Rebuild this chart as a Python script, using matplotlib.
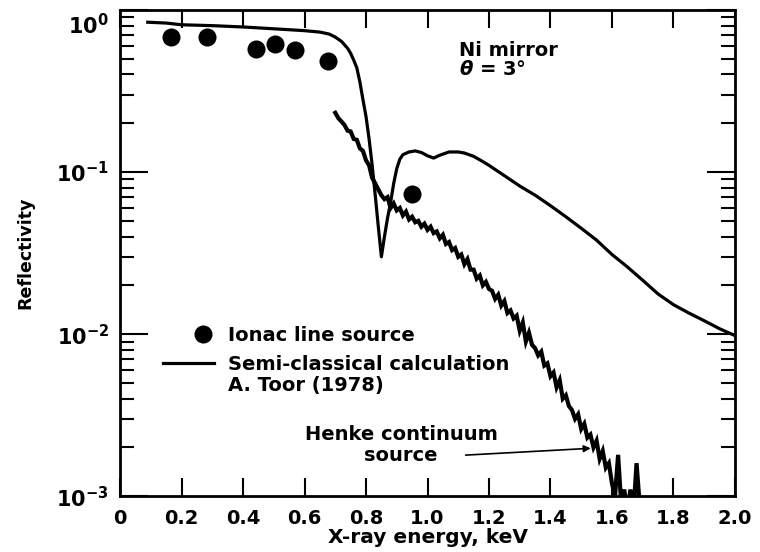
import matplotlib
matplotlib.use("Agg")
import matplotlib.pyplot as plt
import matplotlib.transforms as mtransforms
from matplotlib.legend_handler import HandlerLine2D
from matplotlib.ticker import LogLocator, NullFormatter, FixedLocator

plt.rcParams["font.family"] = ["DejaVu Sans"]
plt.rcParams["font.weight"] = "bold"
plt.rcParams["mathtext.fontset"] = "custom"
plt.rcParams["mathtext.rm"] = "DejaVu Sans:bold"
plt.rcParams["mathtext.it"] = "DejaVu Sans:italic:bold"
plt.rcParams["mathtext.bf"] = "DejaVu Sans:bold"

# Ionac line source measurements
ionac_energy = [0.166, 0.283, 0.442, 0.504, 0.569, 0.676, 0.950]
ionac_refl = [0.68, 0.68, 0.574, 0.62, 0.567, 0.484, 0.073]

# semi-classical calculation (A. Toor 1978)
calc_energy = [0.09, 0.15, 0.20, 0.30, 0.40, 0.50, 0.55, 0.60, 0.65, 0.68, 0.70,
               0.72, 0.74, 0.75, 0.76, 0.77, 0.78, 0.79, 0.80, 0.81, 0.82, 0.83,
               0.84, 0.85, 0.86, 0.87, 0.88, 0.89, 0.90, 0.91, 0.92, 0.94, 0.96,
               0.98, 1.00, 1.02, 1.04, 1.07, 1.10, 1.12, 1.15, 1.18, 1.20, 1.25,
               1.30, 1.35, 1.40, 1.45, 1.50, 1.55, 1.60, 1.65, 1.70, 1.75, 1.80,
               1.85, 1.90, 1.95, 2.00]
calc_refl = [0.84, 0.83, 0.81, 0.80, 0.785, 0.765, 0.755, 0.745, 0.73, 0.71, 0.68,
             0.64, 0.58, 0.54, 0.49, 0.44, 0.36, 0.28, 0.22, 0.16, 0.11, 0.072,
             0.046, 0.030, 0.040, 0.052, 0.065, 0.085, 0.105, 0.12, 0.128, 0.133, 0.135,
             0.132, 0.126, 0.122, 0.127, 0.133, 0.133, 0.131, 0.125, 0.116, 0.110, 0.095,
             0.082, 0.072, 0.062, 0.053, 0.045, 0.038, 0.031, 0.026, 0.0215, 0.0177, 0.0152,
             0.0135, 0.0121, 0.0108, 0.0098]

# Henke continuum source (jagged trace)
henke_energy = [0.70, 0.71, 0.72, 0.73, 0.74, 0.75, 0.76, 0.77, 0.78, 0.79,
                0.80, 0.81, 0.82, 0.83, 0.84, 0.85, 0.86, 0.87, 0.88, 0.89,
                0.90, 0.91, 0.92, 0.93, 0.94, 0.95, 0.96, 0.97, 0.98, 0.99,
                1.00, 1.01, 1.02, 1.03, 1.04, 1.05, 1.06, 1.07, 1.08, 1.09,
                1.10, 1.11, 1.12, 1.13, 1.14, 1.15, 1.16, 1.17, 1.18, 1.19,
                1.20, 1.21, 1.22, 1.23, 1.24, 1.25, 1.26, 1.27, 1.28, 1.29,
                1.30, 1.31, 1.32, 1.33, 1.34, 1.35, 1.36, 1.37, 1.38, 1.39,
                1.40, 1.41, 1.42, 1.43, 1.44, 1.45, 1.46, 1.47, 1.48, 1.49,
                1.50, 1.51, 1.52, 1.53, 1.54, 1.55, 1.56, 1.57, 1.58, 1.59,
                1.60, 1.61, 1.62, 1.63, 1.64, 1.65, 1.66, 1.67, 1.68, 1.69, 1.70]
henke_refl = [0.232, 0.215, 0.205, 0.195, 0.180, 0.178, 0.160, 0.158, 0.140, 0.135,
              0.118, 0.110, 0.092, 0.085, 0.078, 0.072, 0.068, 0.070, 0.060, 0.064,
              0.058, 0.060, 0.054, 0.057, 0.051, 0.053, 0.049, 0.050, 0.046, 0.048,
              0.044, 0.046, 0.042, 0.043, 0.039, 0.041, 0.036, 0.037, 0.033, 0.034,
              0.030, 0.031, 0.027, 0.029, 0.025, 0.025, 0.022, 0.023, 0.020, 0.021,
              0.019, 0.0185, 0.0165, 0.0175, 0.0150, 0.0160, 0.0135, 0.0140, 0.0125, 0.0130,
              0.0105, 0.0118, 0.0090, 0.0102, 0.0086, 0.0082, 0.0074, 0.0078, 0.0064, 0.0066,
              0.0055, 0.0058, 0.0047, 0.0052, 0.0040, 0.0042, 0.0036, 0.0034, 0.0030, 0.0032,
              0.0026, 0.0028, 0.0023, 0.0024, 0.0020, 0.0022, 0.0017, 0.0019, 0.0015, 0.0016,
              0.0012, 0.0010, 0.0018, 0.0009, 0.0011, 0.0008, 0.0011, 0.0008, 0.0016, 0.0009, 0.0007]

x_ticks = [0, 0.2, 0.4, 0.6, 0.8, 1.0, 1.2, 1.4, 1.6, 1.8, 2.0]
x_labels = ["0", "0.2", "0.4", "0.6", "0.8", "1.0", "1.2", "1.4", "1.6", "1.8", "2.0"]
y_ticks = [1e-3, 1e-2, 1e-1, 1e0]
y_labels = [r"$\mathbf{10^{-3}}$", r"$\mathbf{10^{-2}}$", r"$\mathbf{10^{-1}}$", r"$\mathbf{10^{0}}$"]


class OffsetDotHandler(HandlerLine2D):
    # single legend marker goes at the middle of xdata, so move xdata to the right
    def get_xdata(self, legend, xdescent, ydescent, width, height, fontsize):
        _, marker_x = super().get_xdata(legend, xdescent, ydescent, width, height, fontsize)
        return [-xdescent + 0.56 * width, -xdescent + width], marker_x


fig = plt.figure(figsize=(7.6, 5.52), dpi=100)
ax = fig.add_axes([0.158, 0.101, 0.809, 0.881])

ax.plot(henke_energy, henke_refl, color="black", lw=3.0, solid_joinstyle="miter")
calc_line, = ax.plot(calc_energy, calc_refl, color="black", lw=2.3)
ionac_pts, = ax.plot(ionac_energy, ionac_refl, "o", color="black", ms=13, mew=0)

ax.set_yscale("log")
ax.set_xlim(0, 2.0)
ax.set_ylim(1e-3, 1.0)

ax.xaxis.set_major_locator(FixedLocator(x_ticks))
ax.set_xticklabels(x_labels)
ax.yaxis.set_major_locator(FixedLocator(y_ticks))
ax.set_yticklabels(y_labels)
ax.yaxis.set_minor_locator(LogLocator(base=10, subs=range(2, 10)))
ax.yaxis.set_minor_formatter(NullFormatter())

ax.tick_params(axis="both", which="both", direction="in", top=True, right=True, width=1.5)
ax.tick_params(axis="x", which="major", length=13, labelsize=14, pad=9)
ax.tick_params(axis="y", which="major", length=20, labelsize=15, pad=8)
ax.tick_params(axis="y", which="minor", length=10)
for spine in ax.spines.values():
    spine.set_linewidth(2)

ax.set_xlabel("X-ray energy, keV", fontsize=14.5, fontweight="bold", labelpad=0)
ax.set_ylabel("Reflectivity", fontsize=12.5, fontweight="bold", labelpad=16)

ax.text(0.552, 0.936, "Ni mirror\n$\\theta$ = 3°", transform=ax.transAxes, fontsize=14,
        fontweight="bold", va="top", ha="left", linespacing=1.0)

ax.legend([ionac_pts, calc_line], ["Ionac line source", "Semi-classical calculation"],
          loc="upper left", bbox_to_anchor=(0.070, 0.351), frameon=False, fontsize=14,
          handlelength=2.6, handletextpad=0.75, labelspacing=0.55, borderpad=0,
          borderaxespad=0, handler_map={ionac_pts: OffsetDotHandler()})
ax.text(0.1756, 0.228, "A. Toor (1978)", transform=ax.transAxes, fontsize=14,
        fontweight="bold", ha="left", va="center")

ax.text(0.457, 0.105, "Henke continuum\nsource", transform=ax.transAxes, fontsize=14,
        fontweight="bold", ha="center", va="center", linespacing=1.15)
ax.annotate("", xy=(1.54, 0.00198), xytext=(1.115, 0.00179),
            arrowprops=dict(arrowstyle="-|>", color="black", lw=1.2, mutation_scale=10))

# the 10^0 label sits a little below its tick in the original
fig.canvas.draw()
top_label = ax.get_yticklabels()[-1]
top_label.set_transform(top_label.get_transform()
                        + mtransforms.ScaledTranslation(0, -10 / 72, fig.dpi_scale_trans))

fig.savefig("out.png", dpi=100)
